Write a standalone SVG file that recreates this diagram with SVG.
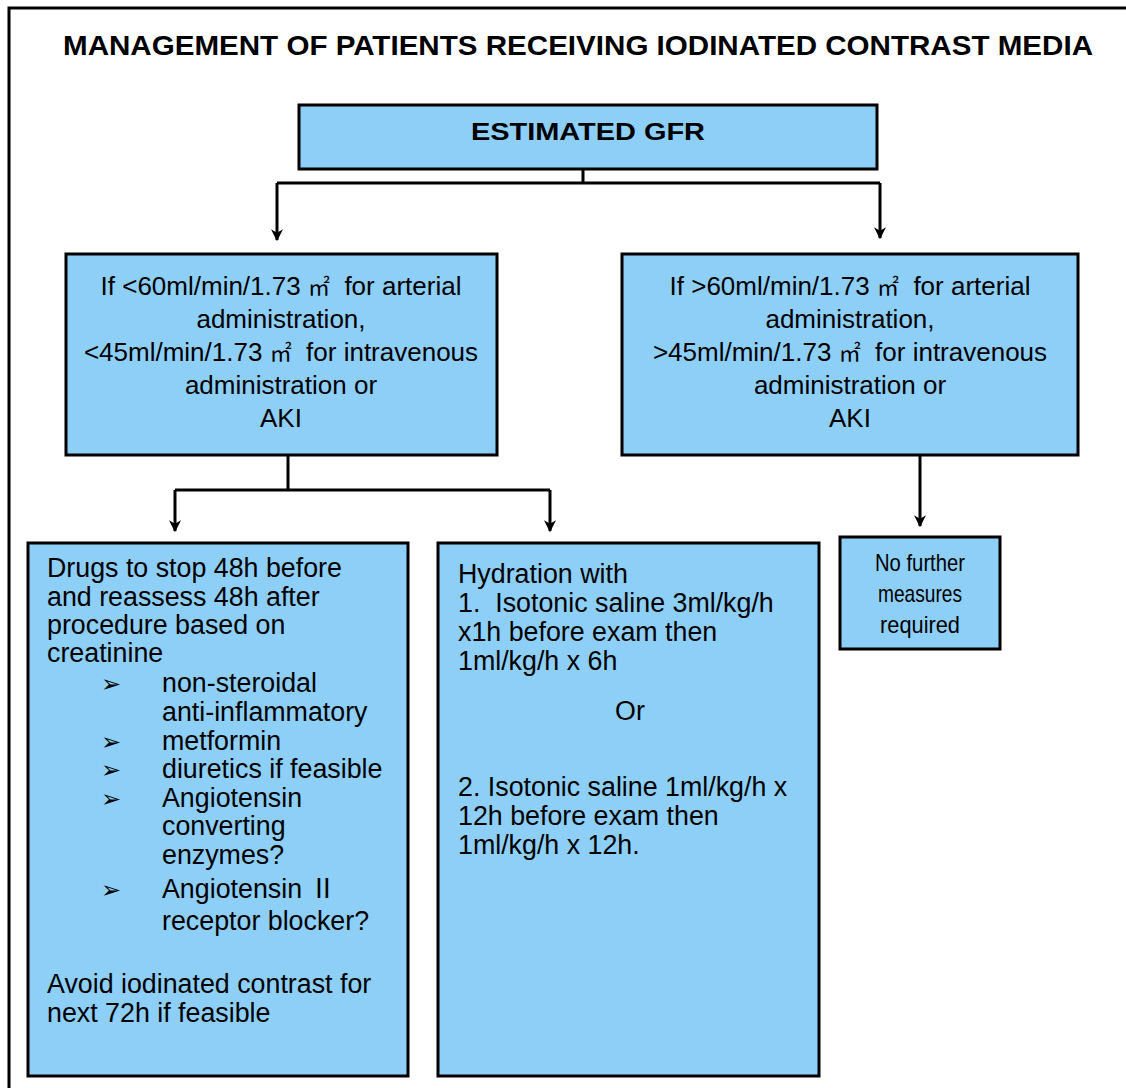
<svg xmlns="http://www.w3.org/2000/svg" width="1126" height="1088" viewBox="0 0 1126 1088">
<style>
.box{fill:#8ecff7;stroke:#000;stroke-width:3}
.t{font-family:"Liberation Sans",Arial,"Noto Sans CJK SC",sans-serif;fill:#000}
.c{text-anchor:middle}
.up{font-size:26px}
.lo{font-size:26.8px}
.nf{font-size:24px}
.sq{font-family:"Noto Sans CJK SC",sans-serif;font-size:22px}
.b{font-family:"DejaVu Sans","Noto Sans CJK SC",sans-serif;font-size:24px}
.con{fill:none;stroke:#000;stroke-width:3}
</style>
<defs>
<marker id="ah" viewBox="0 0 10 10" refX="9" refY="5" markerWidth="4" markerHeight="4" orient="auto" markerUnits="strokeWidth">
<path d="M0,0 L10,5 L0,10 L3,5 z" fill="#000"/>
</marker>
</defs>
<rect width="1126" height="1088" fill="#fff"/>
<path d="M9,1088 V8 H1126" fill="none" stroke="#000" stroke-width="3"/>
<text class="t" x="578" y="55" text-anchor="middle" font-weight="bold" font-size="28" textLength="1030" lengthAdjust="spacingAndGlyphs">MANAGEMENT OF PATIENTS RECEIVING IODINATED CONTRAST MEDIA</text>

<g id="connectors">
<path class="con" d="M583,169 V183"/>
<path class="con" d="M277,183 H880"/>
<path class="con" d="M277,183 V240" marker-end="url(#ah)"/>
<path class="con" d="M880,183 V238" marker-end="url(#ah)"/>
<path class="con" d="M288,455 V490"/>
<path class="con" d="M175,490 H550"/>
<path class="con" d="M175,490 V531" marker-end="url(#ah)"/>
<path class="con" d="M550,490 V531" marker-end="url(#ah)"/>
<path class="con" d="M920,455 V526" marker-end="url(#ah)"/>
</g>

<g id="gfr">
<rect class="box" x="299" y="105" width="578" height="64"/>
<text class="t c" x="588" y="140" font-weight="bold" font-size="24" textLength="234" lengthAdjust="spacingAndGlyphs">ESTIMATED GFR</text>
</g>

<g id="low-gfr">
<rect class="box" x="66" y="254" width="431" height="201"/>
<text class="t c up" x="281" y="295" xml:space="preserve">If &lt;60ml/min/1.73 <tspan class="sq">㎡</tspan>  for arterial</text>
<text class="t c up" x="281" y="328">administration,</text>
<text class="t c up" x="281" y="361" xml:space="preserve">&lt;45ml/min/1.73 <tspan class="sq">㎡</tspan>  for intravenous</text>
<text class="t c up" x="281" y="394">administration or</text>
<text class="t c up" x="281" y="427">AKI</text>
</g>

<g id="high-gfr">
<rect class="box" x="622" y="254" width="456" height="201"/>
<text class="t c up" x="850" y="295" xml:space="preserve">If &gt;60ml/min/1.73 <tspan class="sq">㎡</tspan>  for arterial</text>
<text class="t c up" x="850" y="328">administration,</text>
<text class="t c up" x="850" y="361" xml:space="preserve">&gt;45ml/min/1.73 <tspan class="sq">㎡</tspan>  for intravenous</text>
<text class="t c up" x="850" y="394">administration or</text>
<text class="t c up" x="850" y="427">AKI</text>
</g>

<g id="drugs">
<rect class="box" x="28" y="543" width="380" height="533"/>
<text class="t lo" x="47" y="577">Drugs to stop 48h before</text>
<text class="t lo" x="47" y="606">and reassess 48h after</text>
<text class="t lo" x="47" y="634">procedure based on</text>
<text class="t lo" x="47" y="662">creatinine</text>
<text class="b" x="101" y="692">➢</text>
<text class="t lo" x="162" y="692">non-steroidal</text>
<text class="t lo" x="162" y="721">anti-inflammatory</text>
<text class="b" x="101" y="750">➢</text>
<text class="t lo" x="162" y="750">metformin</text>
<text class="b" x="101" y="778">➢</text>
<text class="t lo" x="162" y="778">diuretics if feasible</text>
<text class="b" x="101" y="807">➢</text>
<text class="t lo" x="162" y="807">Angiotensin</text>
<text class="t lo" x="162" y="835">converting</text>
<text class="t lo" x="162" y="864">enzymes?</text>
<text class="b" x="101" y="898">➢</text>
<text class="t lo" x="162" y="898">Angiotensin Ⅱ</text>
<text class="t lo" x="162" y="930">receptor blocker?</text>
<text class="t lo" x="47" y="993">Avoid iodinated contrast for</text>
<text class="t lo" x="47" y="1022">next 72h if feasible</text>
</g>

<g id="hydration">
<rect class="box" x="438" y="543" width="381" height="533"/>
<text class="t lo" x="458" y="583">Hydration with</text>
<text class="t lo" x="458" y="612" xml:space="preserve">1.  Isotonic saline 3ml/kg/h</text>
<text class="t lo" x="458" y="641">x1h before exam then</text>
<text class="t lo" x="458" y="670">1ml/kg/h x 6h</text>
<text class="t lo c" x="630" y="720">Or</text>
<text class="t lo" x="458" y="796">2. Isotonic saline 1ml/kg/h x</text>
<text class="t lo" x="458" y="825">12h before exam then</text>
<text class="t lo" x="458" y="854">1ml/kg/h x 12h.</text>
</g>

<g id="no-further">
<rect class="box" x="840" y="537" width="160" height="112"/>
<text class="t c nf" x="920" y="571" textLength="90" lengthAdjust="spacingAndGlyphs">No further</text>
<text class="t c nf" x="920" y="602" textLength="84" lengthAdjust="spacingAndGlyphs">measures</text>
<text class="t c nf" x="920" y="633" textLength="80" lengthAdjust="spacingAndGlyphs">required</text>
</g>
</svg>
